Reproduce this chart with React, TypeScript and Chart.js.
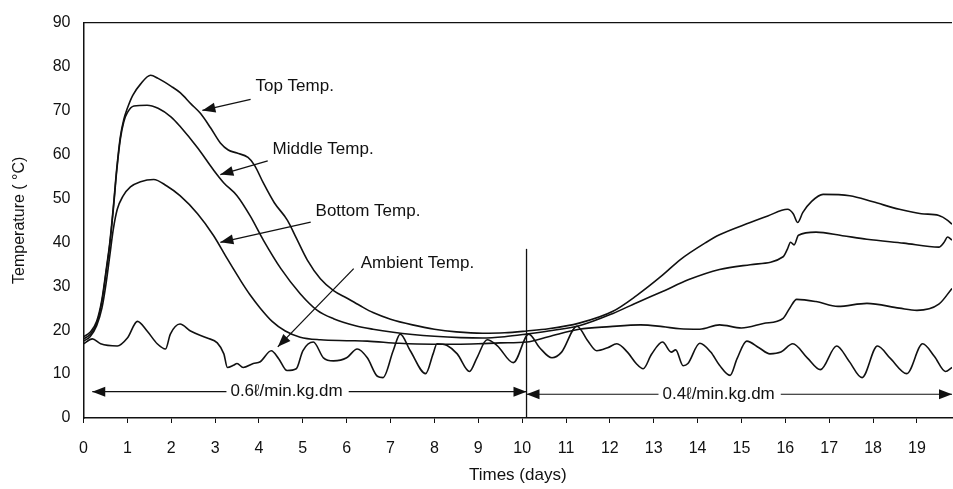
import React, { useEffect, useRef } from 'react';
import { Chart, registerables } from 'chart.js';

Chart.register(...registerables);

// ---- data (day, temperature °C) ----
const xTickValues = [0, 1, 2, 3, 4, 5, 6, 7, 8, 9, 10, 11, 12, 13, 14, 15, 16, 17, 18, 19];
const yTickValues = [0, 10, 20, 30, 40, 50, 60, 70, 80, 90];

const topTemp: [number, number][] = [
  [0, 18.5], [0.15, 19.5], [0.3, 22], [0.42, 27], [0.52, 34], [0.6, 40], [0.68, 48], [0.76, 57],
  [0.84, 64], [0.92, 68], [1.0, 70.5], [1.12, 73.4], [1.3, 76], [1.53, 78], [1.7, 77.3], [2.0, 75.5],
  [2.21, 74], [2.45, 71.5], [2.67, 69.3], [2.9, 66], [3.12, 62.6], [3.3, 61], [3.5, 60.3], [3.75, 59.3],
  [3.9, 57.5], [4.1, 53.5], [4.35, 49], [4.65, 45], [4.85, 41], [5.1, 36], [5.4, 31.7], [5.7, 29],
  [6.0, 27.3], [6.3, 25.6], [6.6, 24], [7.0, 22.5], [7.5, 21.2], [8.0, 20.2], [8.5, 19.6], [9.1, 19.3],
  [9.6, 19.4], [10.1, 19.8], [10.6, 20.3], [11.3, 21.6], [12.07, 24.3], [12.6, 27.8], [13.2, 32.5],
  [13.6, 36], [14.2, 40], [14.5, 41.7], [15.2, 44.5], [15.6, 46], [16.05, 47.5], [16.18, 46.5],
  [16.28, 44.5], [16.4, 46.8], [16.6, 49.3], [16.86, 50.9], [17.47, 50.6], [18.0, 49.2], [18.6, 47.5],
  [19.1, 46.5], [19.5, 46.1], [19.7, 45], [19.8, 44.1],
];

const middleTemp: [number, number][] = [
  [0, 18], [0.15, 19], [0.3, 21.5], [0.42, 26.5], [0.52, 33.5], [0.6, 39.5], [0.68, 47.5], [0.76, 56.5],
  [0.84, 63.5], [0.92, 67.5], [1.0, 69.5], [1.15, 71], [1.45, 71.2], [1.7, 70.5], [2.0, 68.5], [2.2, 66.4],
  [2.6, 61.5], [2.96, 56.5], [3.2, 53.5], [3.5, 50.6], [3.8, 46], [4.1, 40.5], [4.5, 34], [4.94, 28.3],
  [5.33, 24.5], [5.7, 22.6], [6.2, 21], [6.6, 20.2], [7.06, 19.5], [7.5, 19], [8.0, 18.6], [8.6, 18.3],
  [9.1, 18.2], [9.6, 18.5], [10.1, 19.1], [10.6, 19.8], [11.3, 21.0], [12.07, 23.8], [12.6, 26.2],
  [13.2, 28.8], [13.8, 31.5], [14.5, 33.8], [15.2, 34.9], [15.95, 36.7], [16.05, 38.5], [16.12, 40],
  [16.2, 39.4], [16.3, 41.6], [16.7, 42.3], [17.3, 41.5], [17.86, 40.7], [18.7, 39.8], [19.5, 38.9],
  [19.62, 40], [19.7, 41.2], [19.8, 40.5],
];

const bottomTemp: [number, number][] = [
  [0, 17.5], [0.15, 18.5], [0.3, 21], [0.42, 25], [0.52, 31], [0.6, 37], [0.68, 43], [0.77, 47.5],
  [0.9, 50.5], [1.07, 52.6], [1.3, 53.8], [1.6, 54.3], [1.9, 52.8], [2.2, 50.6], [2.6, 46.5], [2.96, 41.6],
  [3.28, 36.2], [3.6, 31], [3.8, 28], [4.03, 25], [4.3, 22], [4.6, 19.8], [4.94, 18.4], [5.4, 17.8],
  [6.0, 17.6], [6.47, 17.5], [7.2, 17], [7.97, 16.8], [8.5, 16.8], [9.0, 16.9], [9.5, 17.1], [10.1, 17.3],
  [10.6, 18.5], [11.3, 20.2], [12.0, 20.8], [12.7, 21.2], [13.2, 20.8], [13.6, 20.3], [14.05, 20.2],
  [14.5, 21.2], [15.0, 20.5], [15.5, 21.5], [15.95, 22.7], [16.1, 25], [16.26, 27], [16.7, 26.5],
  [17.2, 25.4], [17.86, 26.1], [18.6, 25], [19.0, 24.5], [19.5, 25.9], [19.8, 29.5],
];

const ambientTemp: [number, number][] = [
  [0, 16.9], [0.2, 18.0], [0.39, 16.9], [0.77, 16.4], [1.0, 18.2], [1.23, 22.0], [1.45, 19.8], [1.68, 16.9],
  [1.87, 15.7], [1.98, 19.1], [2.2, 21.4], [2.44, 19.8], [2.82, 18.2], [3.05, 17.1], [3.2, 14.6], [3.28, 11.5],
  [3.42, 12.0], [3.5, 12.4], [3.64, 11.5], [3.87, 12.4], [4.03, 12.8], [4.28, 15.3], [4.45, 13.5], [4.64, 10.8],
  [4.85, 11.2], [5.0, 15.3], [5.24, 17.3], [5.47, 13.7], [5.7, 13.0], [6.0, 13.7], [6.24, 15.7], [6.47, 13.7],
  [6.7, 9.5], [6.83, 9.2], [7.06, 15.3], [7.22, 19.1], [7.45, 15.3], [7.8, 10.1], [7.97, 14.6], [8.06, 16.9],
  [8.29, 16.5], [8.52, 14.6], [8.8, 10.6], [8.97, 13.7], [9.2, 17.8], [9.43, 16.5], [9.8, 12.6], [10.15, 19.1],
  [10.4, 16.0], [10.68, 13.7], [10.9, 15.0], [11.25, 20.9], [11.5, 17.5], [11.7, 15.3], [11.95, 16.0],
  [12.16, 16.9], [12.4, 15.0], [12.6, 12.4], [12.76, 11.2], [12.95, 14.5], [13.2, 17.3], [13.4, 15.0],
  [13.5, 15.5], [13.67, 11.9], [13.78, 12.4], [14.05, 17.0], [14.3, 15.0], [14.5, 12.0], [14.74, 9.7],
  [14.9, 13.5], [15.12, 17.5], [15.4, 16.0], [15.65, 14.6], [15.9, 15.0], [16.17, 16.9], [16.5, 13.7],
  [16.8, 11.0], [17.17, 16.4], [17.45, 13.0], [17.75, 9.2], [18.1, 16.4], [18.4, 13.5], [18.77, 10.1],
  [19.13, 16.9], [19.4, 14.0], [19.65, 10.6], [19.8, 11.5],
];

const seriesNames = ['Top Temp.', 'Middle Temp.', 'Bottom Temp.', 'Ambient Temp.'];
const flowLabels = ['0.6\u2113/min.kg.dm', '0.4\u2113/min.kg.dm'];
const switchDay = 10.1;

const FONT = '"Liberation Sans", Arial, Helvetica, sans-serif';
const INK = '#111';

// annotation layout (in data coordinates)
const callouts = [
  { text: seriesNames[0], tx: 3.92, ty: 75.6, fx: 3.81, fy: 72.5, hx: 2.71, hy: 70 },
  { text: seriesNames[1], tx: 4.31, ty: 61.2, fx: 4.2, fy: 58.5, hx: 3.12, hy: 55.4 },
  { text: seriesNames[2], tx: 5.29, ty: 47, fx: 5.18, fy: 44.6, hx: 3.12, hy: 40 },
  { text: seriesNames[3], tx: 6.32, ty: 35.3, fx: 6.16, fy: 34, hx: 4.43, hy: 16.2 },
];

function arrowHead(ctx: CanvasRenderingContext2D, fx: number, fy: number, tx: number, ty: number, len = 13, half = 5) {
  const a = Math.atan2(ty - fy, tx - fx);
  ctx.beginPath();
  ctx.moveTo(tx, ty);
  ctx.lineTo(tx - len * Math.cos(a) + half * Math.sin(a), ty - len * Math.sin(a) - half * Math.cos(a));
  ctx.lineTo(tx - len * Math.cos(a) - half * Math.sin(a), ty - len * Math.sin(a) + half * Math.cos(a));
  ctx.closePath();
  ctx.fill();
}

function arrow(ctx: CanvasRenderingContext2D, fx: number, fy: number, tx: number, ty: number) {
  ctx.beginPath();
  ctx.moveTo(fx, fy);
  ctx.lineTo(tx, ty);
  ctx.stroke();
  arrowHead(ctx, fx, fy, tx, ty);
}

const annotationPlugin = {
  id: 'annotations',
  afterDatasetsDraw(chart: any) {
    const { ctx, chartArea } = chart;
    const xs = chart.scales.x;
    const ys = chart.scales.y;
    const px = (d: number) => xs.getPixelForValue(d);
    const py = (t: number) => ys.getPixelForValue(t);
    ctx.save();
    ctx.strokeStyle = INK;
    ctx.fillStyle = INK;

    // top frame line
    ctx.lineWidth = 1.2;
    ctx.beginPath();
    ctx.moveTo(chartArea.left, chartArea.top);
    ctx.lineTo(chartArea.right, chartArea.top);
    ctx.stroke();

    // callouts
    ctx.font = `17px ${FONT}`;
    ctx.textAlign = 'left';
    ctx.textBaseline = 'middle';
    ctx.lineWidth = 1.3;
    callouts.forEach((c) => {
      ctx.fillText(c.text, px(c.tx), py(c.ty));
      arrow(ctx, px(c.fx), py(c.fy), px(c.hx), py(c.hy));
    });

    // switch line
    ctx.lineWidth = 1.3;
    ctx.beginPath();
    ctx.moveTo(px(switchDay), py(38.5));
    ctx.lineTo(px(switchDay), py(0));
    ctx.stroke();

    // flow rate arrows
    const drawFlow = (label: string, d0: number, d1: number, textDay: number, t: number) => {
      const y = py(t);
      const xText = px(textDay);
      const w = ctx.measureText(label).width;
      ctx.fillText(label, xText, y);
      ctx.lineWidth = 1.1;
      ctx.beginPath();
      ctx.moveTo(px(d0), y);
      ctx.lineTo(xText - 4, y);
      ctx.moveTo(xText + w + 6, y);
      ctx.lineTo(px(d1), y);
      ctx.stroke();
      arrowHead(ctx, px(d0) + 20, y, px(d0), y, 13, 5);
      arrowHead(ctx, px(d1) - 20, y, px(d1), y, 13, 5);
    };
    drawFlow(flowLabels[0], 0.2, switchDay, 3.35, 6.0);
    drawFlow(flowLabels[1], switchDay, 19.8, 13.2, 5.4);

    ctx.restore();
  },
};

export default function App() {
  const canvasRef = useRef<HTMLCanvasElement | null>(null);

  useEffect(() => {
    if (!canvasRef.current) return;
    const mk = (arr: [number, number][]) => arr.map(([x, y]) => ({ x, y }));
    const ds = (label: string, arr: [number, number][]) => ({
      label,
      data: mk(arr),
      borderColor: INK,
      borderWidth: 1.6,
      pointRadius: 0,
      fill: false,
      cubicInterpolationMode: 'monotone' as const,
    });
    const chart = new Chart(canvasRef.current, {
      type: 'line',
      data: {
        datasets: [
          ds(seriesNames[0], topTemp),
          ds(seriesNames[1], middleTemp),
          ds(seriesNames[2], bottomTemp),
          ds(seriesNames[3], ambientTemp),
        ],
      },
      options: {
        responsive: false,
        animation: false,
        layout: { padding: { top: 18, right: 1, left: 0, bottom: 0 } },
        plugins: { legend: { display: false }, tooltip: { enabled: false } },
        scales: {
          x: {
            type: 'linear',
            min: 0,
            max: 19.8,
            afterBuildTicks: (s: any) => {
              s.ticks = xTickValues.map((v) => ({ value: v }));
            },
            afterFit: (s: any) => {
              s.height = 71;
            },
            ticks: { padding: 16, color: INK, font: { size: 16, family: FONT }, maxRotation: 0, autoSkip: false },
            grid: { display: true, drawOnChartArea: false, drawTicks: true, tickLength: 5, color: INK, lineWidth: 1 },
            border: { display: true, color: INK, width: 1.5 },
            title: {
              display: true,
              text: 'Times (days)',
              color: INK,
              font: { size: 17, family: FONT },
              padding: { top: 0, bottom: 3 },
            },
          },
          y: {
            type: 'linear',
            min: 0,
            max: 90,
            afterBuildTicks: (s: any) => {
              s.ticks = yTickValues.map((v) => ({ value: v }));
            },
            afterFit: (s: any) => {
              s.width = 83.5;
            },
            ticks: { padding: 13, color: INK, font: { size: 16, family: FONT } },
            grid: { display: false, drawTicks: false },
            border: { display: true, color: INK, width: 1.5 },
            title: {
              display: true,
              text: 'Temperature ( \u00B0C)',
              color: INK,
              font: { size: 16, family: FONT },
              padding: { top: 10, bottom: 0 },
            },
          },
        },
      },
      plugins: [annotationPlugin],
    } as any);
    return () => chart.destroy();
  }, []);

  return (
    <div style={{ position: 'fixed', left: 0, top: 0, width: 953, height: 489, background: '#fff' }}>
      <canvas ref={canvasRef} width={953} height={489} style={{ display: 'block' }} />
    </div>
  );
}
